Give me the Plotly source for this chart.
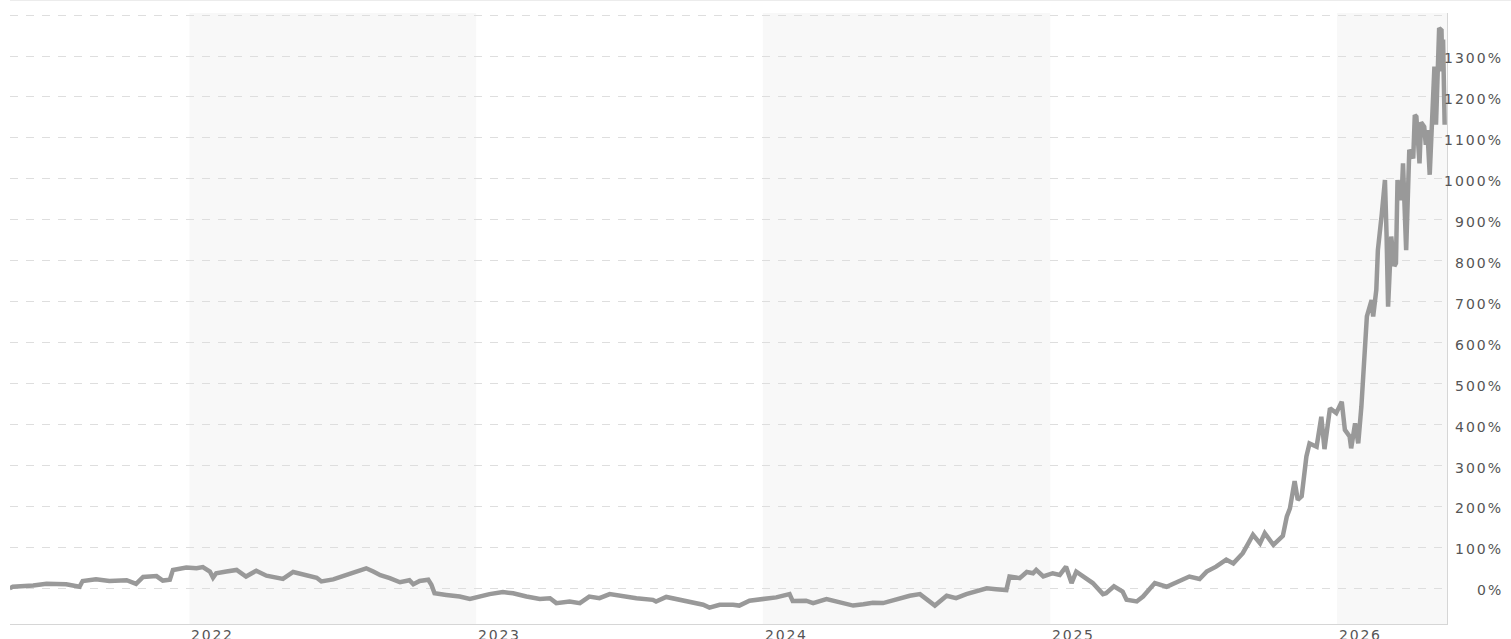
import plotly.graph_objects as go

dates = [
    "2021-05-17", "2021-05-21", "2021-06-16", "2021-07-03", "2021-07-28", "2021-08-14", "2021-08-18",
    "2021-09-04", "2021-09-21", "2021-10-13", "2021-10-25", "2021-11-03", "2021-11-20", "2021-11-28",
    "2021-12-07", "2021-12-11", "2021-12-28",
    "2022-01-10", "2022-01-18", "2022-01-27", "2022-01-31", "2022-02-04", "2022-02-17", "2022-03-02",
    "2022-03-14", "2022-03-27", "2022-04-09", "2022-04-22", "2022-04-30", "2022-05-13", "2022-05-30",
    "2022-06-12", "2022-06-18", "2022-07-03", "2022-07-20", "2022-08-06", "2022-08-14", "2022-08-23",
    "2022-09-01", "2022-09-13", "2022-09-26", "2022-10-08", "2022-10-13", "2022-10-21", "2022-11-01",
    "2022-11-05", "2022-11-09", "2022-11-24", "2022-12-11", "2022-12-24",
    "2023-01-05", "2023-01-18", "2023-02-04", "2023-02-17", "2023-03-06", "2023-03-23", "2023-04-05",
    "2023-04-13", "2023-04-30", "2023-05-13", "2023-05-25", "2023-06-07", "2023-06-20", "2023-07-07",
    "2023-07-24", "2023-08-14", "2023-08-18", "2023-08-31", "2023-09-17", "2023-10-04", "2023-10-17",
    "2023-10-25", "2023-11-07", "2023-11-24", "2023-12-02", "2023-12-15",
    "2024-01-01", "2024-01-18", "2024-02-04", "2024-02-08", "2024-02-25", "2024-03-05", "2024-03-22",
    "2024-04-08", "2024-04-25", "2024-05-08", "2024-05-20", "2024-06-02", "2024-06-19", "2024-07-06",
    "2024-07-19", "2024-07-28", "2024-08-07", "2024-08-22", "2024-09-03", "2024-09-16", "2024-09-29",
    "2024-10-12", "2024-10-24", "2024-11-06", "2024-11-10", "2024-11-23", "2024-12-02", "2024-12-10",
    "2024-12-14", "2024-12-23",
    "2025-01-04", "2025-01-13", "2025-01-21", "2025-01-28", "2025-02-03", "2025-02-16", "2025-02-24",
    "2025-03-09", "2025-03-13", "2025-03-23", "2025-04-03", "2025-04-08", "2025-04-21", "2025-04-29",
    "2025-05-14", "2025-05-29", "2025-06-15", "2025-06-27", "2025-07-10", "2025-07-19", "2025-07-31",
    "2025-08-13", "2025-08-22", "2025-09-03", "2025-09-10", "2025-09-16", "2025-09-25", "2025-10-01",
    "2025-10-12", "2025-10-24", "2025-10-29", "2025-11-02", "2025-11-08", "2025-11-12", "2025-11-17",
    "2025-11-23", "2025-11-27", "2025-12-06", "2025-12-12", "2025-12-16", "2025-12-23", "2025-12-31",
    "2026-01-07", "2026-01-11", "2026-01-17", "2026-01-19", "2026-01-24", "2026-01-28", "2026-02-01",
    "2026-02-05", "2026-02-08", "2026-02-14", "2026-02-16", "2026-02-20", "2026-02-22", "2026-02-27",
    "2026-03-03", "2026-03-05", "2026-03-07", "2026-03-11", "2026-03-15", "2026-03-17", "2026-03-19",
    "2026-03-24", "2026-03-26", "2026-03-30", "2026-04-03", "2026-04-08", "2026-04-10", "2026-04-12",
    "2026-04-16", "2026-04-18", "2026-04-22", "2026-04-24", "2026-04-26", "2026-04-29", "2026-05-03",
    "2026-05-05", "2026-05-07", "2026-05-09", "2026-05-11", "2026-05-14", "2026-05-15", "2026-05-16",
    "2026-05-18",
]

pct_change = [
    0, 4, 7, 11, 10, 4, 18,
    22, 18, 20, 11, 28, 30, 19,
    21, 45, 51,
    49, 52, 41, 26, 37, 41, 45,
    29, 43, 31, 25, 23, 40, 31,
    26, 17, 22, 33, 45, 49, 41,
    32, 25, 15, 20, 10, 18, 21,
    9, -12, -16, -20, -26,
    -20, -14, -9, -12, -20, -26, -24,
    -36, -32, -36, -20, -24, -14, -20,
    -24, -28, -32, -21, -28, -35, -40,
    -47, -40, -40, -42, -30,
    -26, -22, -14, -31, -30, -36, -26,
    -35, -42, -39, -35, -36, -26, -18,
    -14, -26, -42, -18, -24, -14, -8,
    0, -2, -4, 29, 25, 40, 37,
    45, 29,
    37, 33, 53, 13, 41, 23, 13,
    -14, -12, 5, -8, -28, -32, -20,
    13, 4, 17, 29, 23, 41, 53,
    70, 61, 86, 110, 131, 110, 135,
    106, 128, 175, 195, 262, 216, 225,
    322, 354, 346, 419, 340, 440, 428,
    456, 387, 371, 342, 403, 354, 444,
    574, 664, 704, 664, 729, 826, 915,
    997, 867, 688, 859, 787, 794, 997,
    948, 1038, 826, 1071, 1050, 1156, 1152,
    1038, 1138, 1127, 1083, 1119, 1010, 1193,
    1274, 1132, 1278, 1368, 1363, 1262, 1340,
    1132,
]

x_range = ["2021-05-17 12:00", "2026-05-21"]
y_range = [-87, 1405]

band_starts = ["2022-01-01", "2024-01-01", "2026-01-01"]
band_ends = ["2023-01-01", "2025-01-01", "2026-05-21"]

year_label_dates = ["2022-01-01", "2023-01-01", "2024-01-01", "2025-01-01", "2026-01-01"]
year_labels = ["2022", "2023", "2024", "2025", "2026"]

grid_values = list(range(0, 1500, 100))
label_values = list(range(0, 1400, 100))
y_labels = [f"{v}%" for v in label_values]

FONT = "DejaVu Sans"
TEXT_COLOR = "#555555"


def spaced(t, px):
    return f'<span style="letter-spacing:{px}px">{t}</span>'


fig = go.Figure()
fig.add_trace(go.Scatter(
    x=dates, y=pct_change, mode="lines",
    line=dict(color="#999999", width=4.5),
    hoverinfo="skip", showlegend=False,
))

shapes = []
for s, e in zip(band_starts, band_ends):
    shapes.append(dict(type="rect", xref="x", yref="paper", x0=s, x1=e, y0=0, y1=1,
                       fillcolor="#f8f8f8", line=dict(width=0), layer="below"))
# thin border line at the very top of the frame
shapes.append(dict(type="line", xref="paper", yref="paper", x0=0, x1=1.05, y0=1.0205, y1=1.0205,
                   line=dict(color="#ececec", width=1)))

annotations = []
for d, t in zip(year_label_dates, year_labels):
    annotations.append(dict(x=d, xref="x", y=0, yref="paper", text=spaced(t, 1.8), showarrow=False,
                            xanchor="left", yanchor="top", yshift=-1,
                            font=dict(family=FONT, size=14, color=TEXT_COLOR)))
for v, t in zip(label_values, y_labels):
    annotations.append(dict(x=1.0403, xref="paper", y=v, yref="y", text=spaced(t, 2), showarrow=False,
                            xanchor="right", yanchor="middle", yshift=-2,
                            font=dict(family=FONT, size=14, color=TEXT_COLOR)))

fig.update_layout(
    width=1511, height=639,
    margin=dict(l=10, r=64, t=13, b=15, autoexpand=False),
    plot_bgcolor="white", paper_bgcolor="white",
    shapes=shapes, annotations=annotations,
    xaxis=dict(type="date", range=x_range, showgrid=False, showticklabels=False, ticks="",
               showline=True, linecolor="#d6d6d6", linewidth=1, zeroline=False, fixedrange=True),
    yaxis=dict(range=y_range, side="right", tickvals=grid_values, showticklabels=False, ticks="",
               showgrid=True, gridcolor="#dedede", gridwidth=1, griddash="8px,8px",
               showline=True, linecolor="#d6d6d6", linewidth=1, zeroline=False, fixedrange=True),
)

fig.write_html(
    "out.html",
    config={"displayModeBar": False},
    post_script="document.body.style.margin='0';document.body.style.overflow='hidden';",
)
